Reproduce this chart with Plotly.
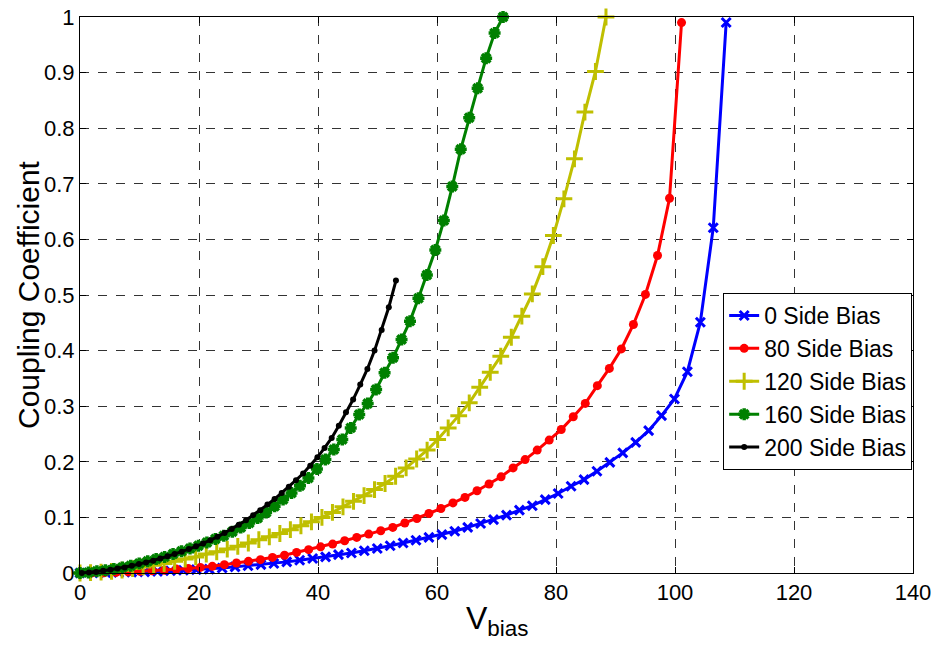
import plotly.graph_objects as go

# ---- data ----
x_0 = [0, 2.17, 4.34, 6.52, 8.69, 10.86, 13.03, 15.20, 17.38, 19.55, 21.72, 23.89, 26.06, 28.24, 30.41,
       32.58, 34.75, 36.92, 39.10, 41.27, 43.44, 45.61, 47.78, 49.96, 52.13, 54.30, 56.47, 58.64, 60.82,
       62.99, 65.16, 67.33, 69.50, 71.68, 73.85, 76.02, 78.19, 80.36, 82.54, 84.71, 86.88, 89.05, 91.22,
       93.40, 95.57, 97.74, 99.91, 102.08, 104.26, 106.43, 108.6]
y_0 = [0.000, 0.0002, 0.0005, 0.001, 0.0015, 0.002, 0.003, 0.004, 0.005, 0.006, 0.007, 0.009, 0.011,
       0.013, 0.015, 0.017, 0.020, 0.023, 0.026, 0.029, 0.033, 0.036, 0.040, 0.044, 0.049, 0.054, 0.059,
       0.064, 0.069, 0.075, 0.082, 0.089, 0.096, 0.104, 0.113, 0.121, 0.132, 0.143, 0.156, 0.168, 0.183,
       0.199, 0.216, 0.235, 0.256, 0.283, 0.313, 0.362, 0.451, 0.621, 0.990]

x_80 = [0, 2.02, 4.04, 6.07, 8.09, 10.11, 12.13, 14.15, 16.18, 18.20, 20.22, 22.24, 24.26, 26.29, 28.31,
        30.33, 32.35, 34.37, 36.40, 38.42, 40.44, 42.46, 44.48, 46.51, 48.53, 50.55, 52.57, 54.59, 56.62,
        58.64, 60.66, 62.68, 64.70, 66.73, 68.75, 70.77, 72.79, 74.81, 76.84, 78.86, 80.88, 82.90, 84.92,
        86.95, 88.97, 90.99, 93.01, 95.03, 97.06, 99.08, 101.1]
y_80 = [0.000, 0.0002, 0.0005, 0.001, 0.002, 0.003, 0.004, 0.005, 0.007, 0.008, 0.010, 0.012, 0.015,
        0.018, 0.021, 0.024, 0.028, 0.032, 0.037, 0.042, 0.047, 0.052, 0.058, 0.064, 0.070, 0.076, 0.082,
        0.090, 0.098, 0.107, 0.116, 0.126, 0.136, 0.148, 0.160, 0.173, 0.189, 0.204, 0.221, 0.239, 0.258,
        0.281, 0.305, 0.337, 0.368, 0.403, 0.447, 0.501, 0.571, 0.674, 0.990]

x_120 = [0, 1.77, 3.54, 5.30, 7.07, 8.84, 10.61, 12.38, 14.14, 15.91, 17.68, 19.45, 21.22, 22.98, 24.75,
         26.52, 28.29, 30.06, 31.82, 33.59, 35.36, 37.13, 38.90, 40.66, 42.43, 44.20, 45.97, 47.74, 49.50,
         51.27, 53.04, 54.81, 56.58, 58.34, 60.11, 61.88, 63.65, 65.42, 67.18, 68.95, 70.72, 72.49, 74.26,
         76.02, 77.79, 79.56, 81.33, 83.10, 84.86, 86.63, 88.4]
y_120 = [0.000, 0.0005, 0.0015, 0.003, 0.005, 0.008, 0.011, 0.014, 0.017, 0.021, 0.025, 0.029, 0.034,
         0.038, 0.043, 0.048, 0.054, 0.060, 0.065, 0.071, 0.078, 0.085, 0.092, 0.100, 0.109, 0.119, 0.129,
         0.139, 0.150, 0.161, 0.174, 0.189, 0.205, 0.221, 0.240, 0.261, 0.283, 0.306, 0.334, 0.361, 0.390,
         0.424, 0.462, 0.502, 0.551, 0.607, 0.673, 0.745, 0.829, 0.902, 1.000]

x_160 = [0, 1.42, 2.84, 4.27, 5.69, 7.11, 8.53, 9.95, 11.38, 12.80, 14.22, 15.64, 17.06, 18.49, 19.91,
         21.33, 22.75, 24.17, 25.60, 27.02, 28.44, 29.86, 31.28, 32.71, 34.13, 35.55, 36.97, 38.39, 39.82,
         41.24, 42.66, 44.08, 45.50, 46.93, 48.35, 49.77, 51.19, 52.61, 54.04, 55.46, 56.88, 58.30, 59.72,
         61.15, 62.57, 63.99, 65.41, 66.83, 68.26, 69.68, 71.1]
y_160 = [0.000, 0.001, 0.003, 0.005, 0.007, 0.010, 0.013, 0.017, 0.021, 0.025, 0.029, 0.034, 0.039,
         0.044, 0.049, 0.055, 0.061, 0.067, 0.074, 0.082, 0.090, 0.099, 0.109, 0.120, 0.132, 0.144, 0.157,
         0.171, 0.187, 0.204, 0.222, 0.240, 0.261, 0.285, 0.305, 0.330, 0.360, 0.387, 0.420, 0.453, 0.494,
         0.536, 0.581, 0.634, 0.695, 0.762, 0.819, 0.872, 0.926, 0.971, 1.000]

x_200 = [0.3, 1.5, 2.7, 3.9, 5.1, 6.3, 7.5, 8.7, 9.9, 11.1, 12.3, 13.5, 14.7, 15.9, 17.1, 18.3, 19.5,
         20.7, 21.9, 23.1, 24.3, 25.5, 26.7, 27.9, 29.1, 30.3, 31.5, 32.7, 33.9, 35.1, 36.3, 37.5, 38.7,
         39.9, 41.1, 42.3, 43.5, 44.7, 45.9, 47.1, 48.3, 49.5, 50.7, 51.9, 53.1]
y_200 = [0.000, 0.001, 0.002, 0.004, 0.006, 0.008, 0.010, 0.013, 0.016, 0.019, 0.022, 0.026, 0.030,
         0.034, 0.038, 0.043, 0.048, 0.053, 0.059, 0.065, 0.072, 0.079, 0.087, 0.095, 0.104, 0.113, 0.123,
         0.133, 0.144, 0.155, 0.167, 0.179, 0.193, 0.208, 0.225, 0.243, 0.265, 0.289, 0.312, 0.339, 0.367,
         0.400, 0.437, 0.478, 0.526]

series = [
    ("0 Side Bias", x_0, y_0, "#0000FF", "x-thin-open", 9, 3),
    ("80 Side Bias", x_80, y_80, "#FF0000", "circle", 9, 0),
    ("120 Side Bias", x_120, y_120, "#BFBF00", "cross-thin-open", 12, 3),
    ("160 Side Bias", x_160, y_160, "#008000", "asterisk-open", 10, 3.5),
    ("200 Side Bias", x_200, y_200, "#000000", "circle", 6, 0),
]

x_ticks = [0, 20, 40, 60, 80, 100, 120, 140]
y_ticks = [0, 0.1, 0.2, 0.3, 0.4, 0.5, 0.6, 0.7, 0.8, 0.9, 1]
y_tick_text = ["0", "0.1", "0.2", "0.3", "0.4", "0.5", "0.6", "0.7", "0.8", "0.9", "1"]
x_title = "V<sub>bias</sub>"
y_title = "Coupling Coefficient"

fig = go.Figure()
for i, (name, xs, ys, col, sym, size, lw) in enumerate(series):
    fig.add_trace(go.Scatter(
        x=xs, y=ys, name=name, mode="lines+markers",
        line=dict(color=col, width=3),
        marker=dict(symbol=sym, size=size, color=col, line=dict(color=col, width=lw)),
        cliponaxis=False, legendgroup="g%d" % i,
    ))

font_main = "Liberation Sans, Arial, Helvetica, sans-serif"
axis_common = dict(
    showline=True, linecolor="black", linewidth=1, mirror="ticks",
    ticks="inside", ticklen=6, tickcolor="black",
    showgrid=True, gridcolor="#333333", gridwidth=1, griddash="dash",
    zeroline=False, tickfont=dict(family=font_main, size=22, color="black"),
    automargin=False, ticklabeloverflow="allow",
)
fig.update_xaxes(range=[0, 140], tickvals=x_ticks, **axis_common)
fig.update_yaxes(range=[0, 1], tickvals=y_ticks, ticktext=y_tick_text, **axis_common)

fig.add_annotation(text=x_title, xref="paper", yref="paper", x=0.5, y=-0.045,
                   xanchor="center", yanchor="top", showarrow=False,
                   font=dict(family=font_main, size=32, color="black"))
fig.add_annotation(text=y_title, xref="paper", yref="paper", x=-0.0624, y=0.5,
                   xanchor="center", yanchor="middle", textangle=-90, showarrow=False,
                   font=dict(family=font_main, size=30, color="black"))

fig.update_layout(
    width=933, height=651,
    margin=dict(l=80, r=20, t=17, b=78, autoexpand=False),
    paper_bgcolor="white", plot_bgcolor="white",
    font=dict(family=font_main, color="black"),
    legend=dict(x=0.999, y=0.5036, xanchor="right", yanchor="top",
                bgcolor="white", bordercolor="black", borderwidth=1,
                font=dict(family=font_main, size=23, color="black"),
                itemwidth=30, tracegroupgap=0),
    showlegend=True,
)

fig.write_html("out.html", config={"displayModeBar": False},
               post_script="document.body.style.margin='0px';document.body.style.overflow='hidden';")
